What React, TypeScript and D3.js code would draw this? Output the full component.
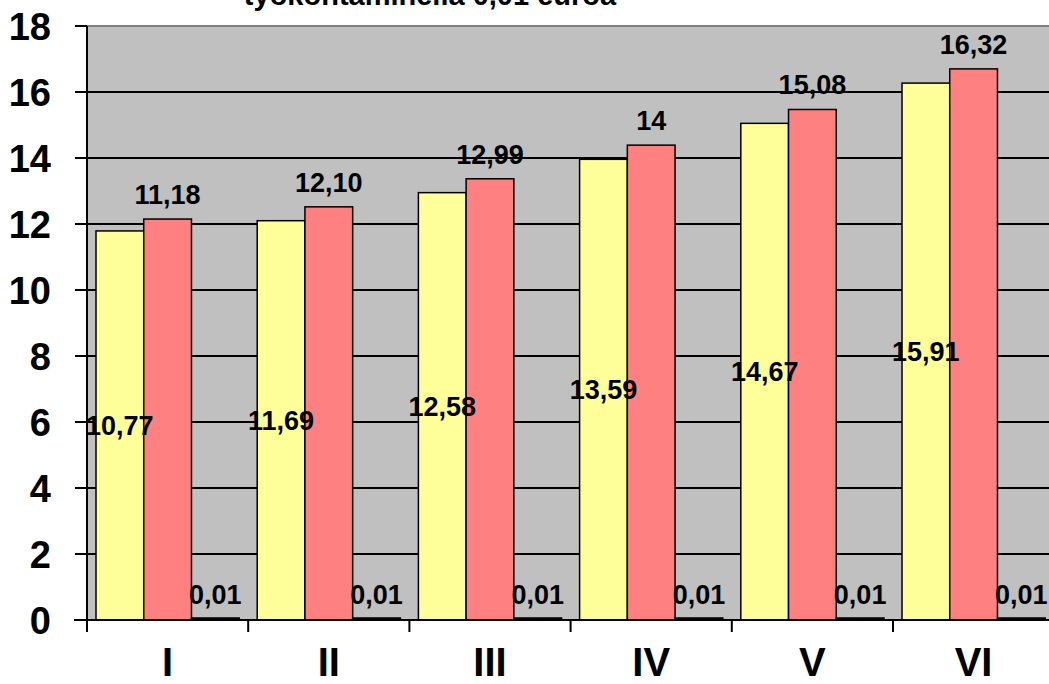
import React from "react";
import * as d3 from "d3";

const categories = ["I", "II", "III", "IV", "V", "VI"];
const seriesKeys = ["a", "b", "c"];
// bar heights as drawn in the picture
const yellowValues = [11.79, 12.1, 12.95, 13.96, 15.05, 16.27];
const redValues = [12.15, 12.52, 13.37, 14.39, 15.47, 16.7];
const thirdValues = [0.01, 0.01, 0.01, 0.01, 0.01, 0.01];
// data label texts as printed
const yellowLabels = ["10,77", "11,69", "12,58", "13,59", "14,67", "15,91"];
const redLabels = ["11,18", "12,10", "12,99", "14", "15,08", "16,32"];
const thirdLabels = ["0,01", "0,01", "0,01", "0,01", "0,01", "0,01"];
const yTicks = [0, 2, 4, 6, 8, 10, 12, 14, 16, 18];
const titleText = "työkontaminella 0,01 euroa";

const W = 1049;
const H = 684;
const FONT = "'Liberation Sans', Arial, sans-serif";

export default function App() {
  const left = 87;
  const bandW = 161.2;
  const top = 26;
  const bottom = 620;
  const x = d3
    .scaleBand<string>()
    .domain(categories)
    .range([left, left + bandW * categories.length])
    .paddingInner(0)
    .paddingOuter(0);
  const inner = d3.scaleBand<string>().domain(seriesKeys).range([9, bandW - 9]);
  const y = d3.scaleLinear().domain([0, 18]).range([bottom, top]);
  const plotRight = left + bandW * categories.length;

  const series = [
    { key: "a", values: yellowValues, labels: yellowLabels, fill: "#FFFF99" },
    { key: "b", values: redValues, labels: redLabels, fill: "#FF8080" },
    { key: "c", values: thirdValues, labels: thirdLabels, fill: "#000000" },
  ];

  return (
    <svg
      width={W}
      height={H}
      style={{ position: "absolute", left: 0, top: 0, background: "#fff" }}
      fontFamily={FONT}
    >
      <text x={430} y={5} textAnchor="middle" fontSize={29} fontWeight="bold" fill="#000">
        {titleText}
      </text>
      <rect x={left} y={top} width={plotRight - left} height={bottom - top} fill="#C0C0C0" />
      <line x1={left} x2={plotRight} y1={top} y2={top} stroke="#808080" strokeWidth={2} />
      {yTicks
        .filter((t) => t > 0 && t < 18)
        .map((t) => (
          <line key={t} x1={left} x2={plotRight} y1={y(t)} y2={y(t)} stroke="#000" strokeWidth={2} />
        ))}
      {series.map((s) =>
        categories.map((c, i) => {
          const bx = (x(c) as number) + (inner(s.key) as number);
          const bw = inner.bandwidth();
          const by = y(s.values[i]);
          return (
            <rect
              key={s.key + c}
              x={bx}
              y={Math.min(by, bottom - 2)}
              width={bw}
              height={Math.max(2, bottom - by)}
              fill={s.fill}
              stroke="#000"
              strokeWidth={1.5}
            />
          );
        })
      )}
      {/* axes */}
      <line x1={left} x2={left} y1={top} y2={bottom + 12} stroke="#000" strokeWidth={2} />
      <line x1={left - 13} x2={plotRight} y1={bottom} y2={bottom} stroke="#000" strokeWidth={2} />
      {yTicks.map((t) => (
        <g key={"yt" + t}>
          <line x1={left - 12} x2={left} y1={y(t)} y2={y(t)} stroke="#000" strokeWidth={2} />
          <text
            x={51}
            y={y(t)}
            dy="0.36em"
            textAnchor="end"
            fontSize={38}
            fontWeight="bold"
            fill="#000"
          >
            {t}
          </text>
        </g>
      ))}
      {categories.map((c) => (
        <g key={"xt" + c}>
          <line
            x1={(x(c) as number) + bandW}
            x2={(x(c) as number) + bandW}
            y1={bottom}
            y2={bottom + 12}
            stroke="#000"
            strokeWidth={2}
          />
          <text
            x={(x(c) as number) + bandW / 2}
            y={676}
            textAnchor="middle"
            fontSize={40}
            fontWeight="bold"
            fill="#000"
          >
            {c}
          </text>
        </g>
      ))}
      {/* data labels */}
      {categories.map((c, i) => {
        const bw = inner.bandwidth();
        const cxA = (x(c) as number) + (inner("a") as number) + bw / 2;
        const cxB = (x(c) as number) + (inner("b") as number) + bw / 2;
        const cxC = (x(c) as number) + (inner("c") as number) + bw / 2;
        const yA = (y(yellowValues[i]) + bottom) / 2;
        return (
          <g key={"lab" + c} fontSize={27} fontWeight="bold" fill="#000" textAnchor="middle">
            <text x={cxA} y={yA} dy="0.36em">
              {yellowLabels[i]}
            </text>
            <text x={cxB} y={y(redValues[i]) - 15}>
              {redLabels[i]}
            </text>
            <text x={cxC} y={y(thirdValues[i]) - 16}>
              {thirdLabels[i]}
            </text>
          </g>
        );
      })}
    </svg>
  );
}
